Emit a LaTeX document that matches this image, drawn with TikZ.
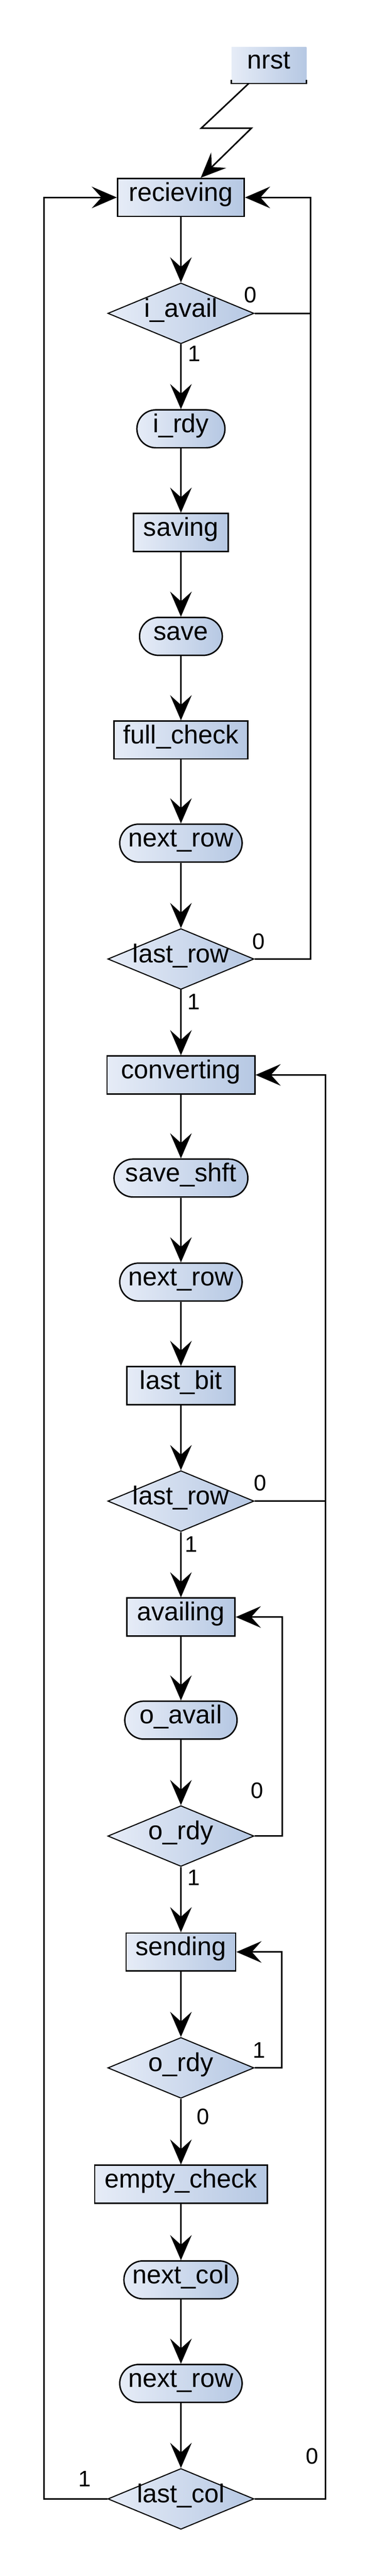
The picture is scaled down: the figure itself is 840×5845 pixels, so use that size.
\documentclass[tikz,border=0pt]{standalone}
\usepackage{fontspec}
\setmainfont{Liberation Sans}
\usetikzlibrary{arrows.meta,shapes.geometric}
\definecolor{cl}{RGB}{230,236,247}
\definecolor{cr}{RGB}{182,200,227}
\newcommand{\mfs}{\fontsize{29.4pt}{34pt}\selectfont}
\newcommand{\lfs}{\fontsize{25.5pt}{30pt}\selectfont}
\tikzset{
  fillg/.style={left color=cl, right color=cr},
  basenode/.style={draw, line width=1.6pt, fillg, inner sep=0pt, font=\mfs,
    text height=0.98em, text depth=0.16em, minimum height=43pt},
  stbox/.style={basenode, rectangle},
  stpill/.style={basenode, rectangle, rounded corners=21.5pt},
  stdia/.style={draw, line width=1.2pt, fillg, diamond, inner sep=0pt, font=\mfs,
    text height=0.98em, text depth=0.16em, minimum width=166pt, minimum height=69pt},
  lbl/.style={font=\lfs, inner sep=0pt},
  wire/.style={line width=1.7pt},
  conn/.style={wire, -{Stealth[length=28.5pt,width=24.5pt,inset=11pt]}},
}
\begin{document}
\begin{tikzpicture}[x=0.5pt,y=-0.5pt]
\useasboundingbox (0,0) rectangle (840,5845);

% reset source
\node[fillg, inner sep=0pt, minimum width=85pt, minimum height=41pt, font=\mfs,
  text height=0.98em, text depth=0.16em] (nrst) at (611,148) {nrst};
\draw[wire] ([yshift=4pt]nrst.south west) -- (nrst.south west) -- (nrst.south east) -- ([yshift=4pt]nrst.south east);

% main column
\node[stbox, minimum width=144pt] (rec) at (411,448) {recieving};
\node[stdia] (ia) at (411,711) {\makebox[0pt]{i\_avail}};
\node[stpill, minimum width=100pt] (irdy) at (411,973) {i\_rdy};
\node[stbox, minimum width=107.5pt] (sav) at (411,1208) {saving};
\node[stpill, minimum width=94pt] (save) at (411,1444) {save};
\node[stbox, minimum width=152pt] (fc) at (411,1679) {full\_check};
\node[stpill, minimum width=139pt] (nra) at (411,1913) {next\_row};
\node[stdia] (lra) at (411,2176) {\makebox[0pt]{last\_row}};
\node[stbox, minimum width=168pt] (conv) at (411,2439) {converting};
\node[stpill, minimum width=152pt] (ss) at (411,2673) {save\_shft};
\node[stpill, minimum width=139pt] (nrb) at (411,2909) {next\_row};
\node[stbox, minimum width=123pt] (lb) at (411,3144) {last\_bit};
\node[stdia] (lrb) at (411,3406) {\makebox[0pt]{last\_row}};
\node[stbox, minimum width=123pt] (av) at (411,3669) {availing};
\node[stpill, minimum width=127.5pt] (oa) at (411,3903) {o\_avail};
\node[stdia] (ora) at (411,4166) {\makebox[0pt]{o\_rdy}};
\node[stbox, minimum width=124.5pt] (snd) at (411,4429) {sending};
\node[stdia] (orb) at (411,4692) {\makebox[0pt]{o\_rdy}};
\node[stbox, minimum width=196pt] (ec) at (411,4956) {empty\_check};
\node[stpill, minimum width=129.5pt] (nc) at (411,5173) {next\_col};
\node[stpill, minimum width=139pt] (nrc) at (411,5408) {next\_row};
\node[stdia] (lc) at (411,5670) {\makebox[0pt]{last\_col}};

% reset zigzag
\coordinate (z1) at (457,291);
\coordinate (z2) at (571,291);
\draw[conn] ([xshift=-23pt]nrst.south) -- (z1) -- (z2) -- ([xshift=22.5pt]rec.north);

% straight flow
\draw[conn] (rec) -- (ia);
\draw[conn] (ia) -- (irdy);
\draw[conn] (irdy) -- (sav);
\draw[conn] (sav) -- (save);
\draw[conn] (save) -- (fc);
\draw[conn] (fc) -- (nra);
\draw[conn] (nra) -- (lra);
\draw[conn] (lra) -- (conv);
\draw[conn] (conv) -- (ss);
\draw[conn] (ss) -- (nrb);
\draw[conn] (nrb) -- (lb);
\draw[conn] (lb) -- (lrb);
\draw[conn] (lrb) -- (av);
\draw[conn] (av) -- (oa);
\draw[conn] (oa) -- (ora);
\draw[conn] (ora) -- (snd);
\draw[conn] (snd) -- (orb);
\draw[conn] (orb) -- (ec);
\draw[conn] (ec) -- (nc);
\draw[conn] (nc) -- (nrc);
\draw[conn] (nrc) -- (lc);

% left return loop
\coordinate (la) at (100,5670);
\coordinate (lt) at (100,448);
\draw[conn] (lc.west) -- (la) -- (lt) -- (rec.west);

% right loop 1
\coordinate (r1b) at (706,2176);
\coordinate (r1t) at (706,448);
\draw[conn] (lra.east) -- (r1b) -- (r1t) -- (rec.east);
\draw[wire] (ia.east) -- (ia.east -| r1b);

% right loop 2
\coordinate (r2b) at (739,5670);
\coordinate (r2t) at (739,2439);
\draw[conn] (lc.east) -- (r2b) -- (r2t) -- (conv.east);
\draw[wire] (lrb.east) -- (lrb.east -| r2b);

% loop 3
\coordinate (r3b) at (641,4166);
\coordinate (r3t) at (641,3669);
\draw[conn] (ora.east) -- (r3b) -- (r3t) -- (av.east);

% loop 4
\coordinate (r4b) at (640,4692);
\coordinate (r4t) at (640,4429);
\draw[conn] (orb.east) -- (r4b) -- (r4t) -- (snd.east);

% branch labels
\node[lbl] (t1) at (569,669) {0};
\node[lbl] (t2) at (442,802) {1};
\node[lbl] (t3) at (588,2136) {0};
\node[lbl] (t4) at (440,2273) {1};
\node[lbl] (t5) at (591,3365) {0};
\node[lbl] (t6) at (434,3504) {1};
\node[lbl] (t7) at (584,4063) {0};
\node[lbl] (t8) at (440,4260) {1};
\node[lbl] (t9) at (589,4652) {1};
\node[lbl] (t10) at (461,4803) {0};
\node[lbl] (t11) at (192,5624) {1};
\node[lbl] (t12) at (709,5573) {0};
\end{tikzpicture}
\end{document}
